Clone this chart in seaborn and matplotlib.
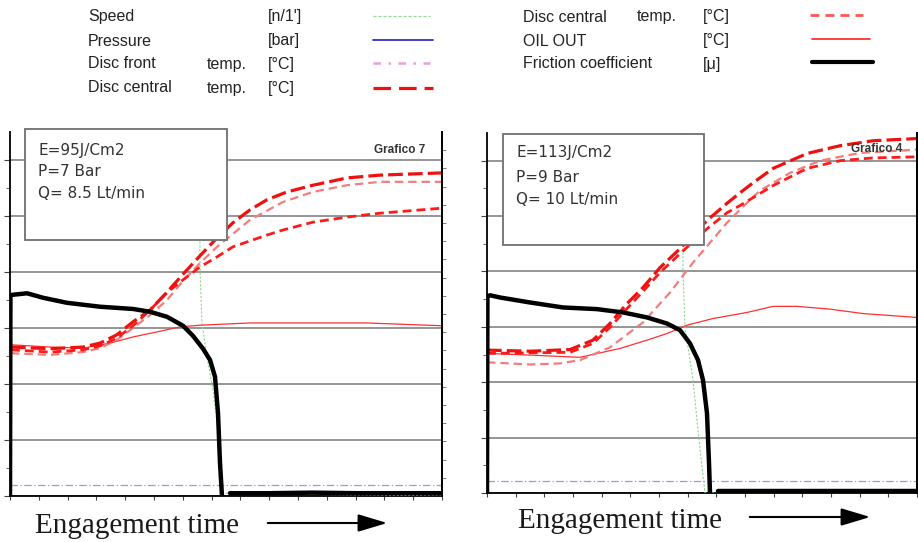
import numpy as np
import pandas as pd
import matplotlib
matplotlib.use("Agg")
import matplotlib.pyplot as plt
import seaborn as sns
from matplotlib.lines import Line2D
from matplotlib.patches import Rectangle

# ---------------- data (time in % of window, values in grid units) ----------------
# Left panel (Grafico 7)
L_fric_t = [0.0, 0.1, 0.23, 3.94, 7.64, 13.19, 20.83, 28.47, 32.41, 36.34, 40.05, 42.36, 44.68, 46.30, 47.45, 48.15, 48.61, 49.07]
L_fric_v = [0.0, 3.55, 3.59, 3.62, 3.54, 3.45, 3.38, 3.34, 3.29, 3.20, 3.04, 2.86, 2.63, 2.43, 2.13, 1.48, 0.59, 0.0]
L_fric2_t = [50.93, 60.0, 70.0, 80.0, 90.0, 100.0]
L_fric2_v = [0.05, 0.05, 0.06, 0.05, 0.05, 0.05]

L_c1_t = [0.23, 9.26, 16.90, 20.83, 24.77, 28.47, 32.41, 36.34, 40.05, 43.98, 47.92, 51.62, 55.56, 59.49, 64.12, 70.14, 78.01, 85.65, 100.0]
L_c1_v = [2.66, 2.63, 2.66, 2.73, 2.88, 3.11, 3.32, 3.64, 3.96, 4.29, 4.61, 4.88, 5.11, 5.29, 5.43, 5.55, 5.68, 5.73, 5.77]
L_c2_t = [0.23, 9.26, 16.90, 20.83, 24.77, 28.47, 32.41, 36.34, 40.05, 43.98, 47.92, 55.56, 63.19, 70.14, 78.01, 85.65, 100.0]
L_c2_v = [2.55, 2.52, 2.57, 2.64, 2.79, 3.00, 3.23, 3.50, 3.84, 4.16, 4.45, 4.93, 5.25, 5.43, 5.55, 5.61, 5.61]
L_c3_t = [0.23, 9.26, 16.90, 20.83, 24.77, 28.47, 32.41, 36.34, 40.05, 43.98, 47.92, 51.62, 59.49, 63.19, 70.14, 78.01, 85.65, 100.0]
L_c3_v = [2.61, 2.57, 2.61, 2.68, 2.82, 3.04, 3.32, 3.63, 3.86, 4.09, 4.27, 4.45, 4.66, 4.75, 4.89, 4.98, 5.05, 5.14]
L_oil_t = [0.23, 9.26, 16.90, 23.15, 28.47, 34.03, 39.35, 43.98, 55.56, 71.06, 82.64, 100.0]
L_oil_v = [2.70, 2.66, 2.64, 2.73, 2.84, 2.93, 3.02, 3.05, 3.09, 3.09, 3.09, 3.04]
L_spd_t = [0.0, 43.8, 44.0, 44.44, 45.60, 46.99, 48.15, 48.84, 49.07, 100.0]
L_spd_v = [7.0, 7.0, 4.0, 3.09, 2.48, 1.89, 1.18, 0.52, 0.05, 0.0]
L_prs_t = [0.0, 100.0]
L_prs_v = [0.20, 0.20]

# Right panel (Grafico 4)
R_fric_t = [0.0, 0.1, 0.70, 3.02, 10.0, 17.67, 25.58, 31.63, 37.21, 41.86, 44.88, 47.21, 49.07, 50.23, 51.16, 51.63, 51.86]
R_fric_v = [0.0, 3.55, 3.57, 3.53, 3.44, 3.35, 3.32, 3.26, 3.17, 3.06, 2.94, 2.70, 2.40, 2.04, 1.44, 0.54, 0.0]
R_fric2_t = [53.72, 65.0, 75.0, 85.0, 100.0]
R_fric2_v = [0.03, 0.03, 0.03, 0.03, 0.03]

R_c1_t = [0.0, 10.0, 19.30, 24.65, 28.60, 32.56, 36.28, 40.23, 44.88, 51.16, 55.81, 58.84, 61.86, 66.51, 74.42, 82.09, 89.77, 100.0]
R_c1_v = [2.58, 2.56, 2.59, 2.76, 3.06, 3.42, 3.71, 4.07, 4.41, 4.92, 5.23, 5.42, 5.60, 5.86, 6.13, 6.27, 6.36, 6.40]
R_c3_t = [0.0, 19.30, 24.65, 28.60, 32.56, 36.28, 40.23, 44.88, 51.16, 55.81, 58.84, 66.51, 74.42, 82.09, 89.77, 100.0]
R_c3_v = [2.52, 2.54, 2.70, 2.99, 3.33, 3.64, 3.98, 4.32, 4.77, 5.06, 5.19, 5.55, 5.86, 6.00, 6.05, 6.07]
R_c2_t = [0.0, 10.0, 16.98, 21.63, 28.60, 36.28, 42.56, 47.91, 51.86, 55.81, 60.47, 63.49, 70.47, 77.44, 86.74, 100.0]
R_c2_v = [2.36, 2.32, 2.34, 2.40, 2.63, 3.08, 3.62, 4.16, 4.52, 4.88, 5.24, 5.46, 5.78, 6.00, 6.14, 6.20]
R_oil_t = [0.0, 10.0, 21.63, 30.93, 37.21, 41.86, 46.51, 52.56, 60.47, 66.51, 72.09, 79.77, 87.44, 100.0]
R_oil_v = [2.52, 2.49, 2.45, 2.61, 2.76, 2.88, 3.03, 3.15, 3.26, 3.37, 3.37, 3.32, 3.24, 3.17]
R_spd_t = [0.0, 45.4, 45.58, 46.05, 47.91, 49.07, 50.0, 50.70, 100.0]
R_spd_v = [7.0, 7.0, 4.0, 2.99, 2.04, 1.14, 0.47, 0.0, 0.0]
R_prs_t = [0.0, 100.0]
R_prs_v = [0.22, 0.22]

panel_info = [["E=95J/Cm2", "P=7 Bar", "Q= 8.5 Lt/min"], ["E=113J/Cm2", "P=9 Bar", "Q= 10 Lt/min"]]
panel_titles = ["Grafico 7", "Grafico 4"]
legend_left = [("Speed", "", "[n/1']"), ("Pressure", "", "[bar]"),
               ("Disc front", "temp.", "[°C]"), ("Disc central", "temp.", "[°C]")]
legend_right = [("Disc central", "temp.", "[°C]"), ("OIL OUT", "", "[°C]"),
                ("Friction coefficient", "", "[μ]")]

# ---------------- styles ----------------
RED = "#ff1a1a"
sty = {
    "spd": dict(color="#8fd68f", lw=0.8, ls=(0, (2, 1.5))),
    "prs": dict(color="#9a9ad8", lw=0.9, ls=(0, (6, 2, 1, 2))),
    "c2": dict(color="#f47c7c", lw=1.6, ls=(0, (3.8, 2.2))),
    "c3": dict(color=RED, lw=2.0, ls=(0, (3.2, 1.8))),
    "c1": dict(color="#f01010", lw=2.3, ls=(0, (4.6, 1.6))),
    "oil": dict(color="#ff3030", lw=0.9, ls="-"),
    "fric": dict(color="black", lw=3.2, ls="-"),
}

sns.set_style("white")
plt.rcParams["font.family"] = ["Liberation Sans", "DejaVu Sans"]

fig = plt.figure(figsize=(9.18, 5.42), dpi=100)
W, H = 918.0, 542.0


def line(ax, t, v, key, z):
    s = sty[key]
    df = pd.DataFrame({"t": t, "v": v})
    sns.lineplot(data=df, x="t", y="v", ax=ax, color=s["color"], linewidth=s["lw"],
                 linestyle=s["ls"], estimator=None, sort=False, zorder=z, legend=False)


panels = [
    dict(rect=(10, 132, 442, 496), series=[
        (L_spd_t, L_spd_v, "spd"), (L_prs_t, L_prs_v, "prs"), (L_oil_t, L_oil_v, "oil"),
        (L_c2_t, L_c2_v, "c2"), (L_c3_t, L_c3_v, "c3"), (L_c1_t, L_c1_v, "c1"),
        (L_fric_t, L_fric_v, "fric"), (L_fric2_t, L_fric2_v, "fric")]),
    dict(rect=(487, 133, 917, 493), series=[
        (R_spd_t, R_spd_v, "spd"), (R_prs_t, R_prs_v, "prs"), (R_oil_t, R_oil_v, "oil"),
        (R_c2_t, R_c2_v, "c2"), (R_c3_t, R_c3_v, "c3"), (R_c1_t, R_c1_v, "c1"),
        (R_fric_t, R_fric_v, "fric"), (R_fric2_t, R_fric2_v, "fric")]),
]
box_px = [(25, 129, 227, 240), (503, 134, 704, 245)]
txt_px = [(38, [150, 172, 194]), (516, [153, 177, 199])]
title_px = [(425, 150), (902, 149)]

for i, p in enumerate(panels):
    x0, y0, x1, y1 = p["rect"]
    ax = fig.add_axes([x0 / W, 1 - y1 / H, (x1 - x0) / W, (y1 - y0) / H])
    ax.set_facecolor("white")
    for z, (t, v, key) in enumerate(p["series"]):
        line(ax, t, v, key, 3 + z * 0.1)
    ax.set_xlim(0, 100)
    ax.set_ylim(0, 6.5)
    ax.set_xlabel("")
    ax.set_ylabel("")
    ax.set_yticks(np.arange(0, 7, 1))
    ax.set_yticks(np.arange(0.5, 6.5, 1), minor=True)
    ax.set_xticks(np.linspace(0, 100, 16))
    ax.tick_params(axis="both", which="both", labelleft=False, labelbottom=False,
                   left=True, bottom=True, direction="out", color="#444444")
    ax.tick_params(axis="y", which="major", length=4, width=0.8)
    ax.tick_params(axis="y", which="minor", length=3, width=0.6)
    ax.tick_params(axis="x", length=3, width=0.8)
    ax.grid(axis="y", which="major", color="#8c8c8c", lw=1.3, zorder=0)
    ax.set_axisbelow(True)
    ax.spines["top"].set_visible(False)
    for s in ["left", "bottom", "right"]:
        ax.spines[s].set_color("black")
        ax.spines[s].set_linewidth(1.3)
    ax2 = ax.twinx()
    ax2.set_ylim(0, 20)
    ax2.set_yticks(np.arange(1, 20, 1))
    ax2.tick_params(axis="y", right=True, labelright=False, length=3, width=0.6,
                    direction="out", color="#666666")
    ax2.spines["top"].set_visible(False)
    ax2.spines["left"].set_visible(False)
    ax2.spines["bottom"].set_visible(False)
    ax2.spines["right"].set_color("black")
    ax2.spines["right"].set_linewidth(1.3)

    # info box
    bx0, by0, bx1, by1 = box_px[i]
    ax_w, ax_h = x1 - x0, y1 - y0
    rx = (bx0 - x0) / ax_w
    ry = (y1 - by1) / ax_h
    rw = (bx1 - bx0) / ax_w
    rh = (by1 - by0) / ax_h
    ax2.add_patch(Rectangle((rx, ry), rw, rh, transform=ax.transAxes, facecolor="white",
                            edgecolor="#707070", lw=1.3, zorder=20, clip_on=False))
    tx, tys = txt_px[i]
    for line_txt, ty in zip(panel_info[i], tys):
        ax2.text((tx - x0) / ax_w, (y1 - ty) / ax_h, line_txt, transform=ax.transAxes,
                 fontsize=11, family="DejaVu Sans", color="#333333", va="center",
                 ha="left", zorder=21)
    gx, gy = title_px[i]
    ax2.text((gx - x0) / ax_w, (y1 - gy) / ax_h, panel_titles[i], transform=ax.transAxes,
             fontsize=8.5, fontweight="bold", color="#333333", va="center", ha="right",
             zorder=21)

# ---------------- legend (figure coordinates) ----------------
def ftext(x, y, s, **kw):
    fig.text(x / W, 1 - y / H, s, fontsize=11.5, color="#222222", va="center", ha="left", **kw)


def fline(xa, xb, y, **kw):
    fig.add_artist(Line2D([xa / W, xb / W], [1 - y / H, 1 - y / H], transform=fig.transFigure, **kw))


ly = [17, 41, 64, 88]
for (a, b, c), y in zip(legend_left, ly):
    ftext(88, y, a)
    if b:
        ftext(207, y, b)
    ftext(268, y, c)
fline(373, 430, 16, color="#9ad69a", lw=0.9, ls=(0, (2.5, 1.5)))
fline(373, 433, 40, color="#3030c0", lw=1.3)
fline(373, 430, 63, color="#eaa0d6", lw=1.8, ls=(0, (3, 3, 1, 3)))
fline(373, 433, 88, color="#f01010", lw=2.3, ls=(0, (5.5, 2.5)))

ry_ = [17, 41, 64]
for (a, b, c), y in zip(legend_right, ry_):
    ftext(523, y, a)
    if b:
        ftext(637, y, b)
    ftext(703, y, c)
fline(810, 863, 15, color="#ff5555", lw=2.0, ls=(0, (3.2, 2.2)))
fline(812, 870, 39, color="#ff3030", lw=1.3)
fline(812, 873, 62, color="black", lw=3.0)

# ---------------- bottom labels with arrows ----------------
for (tx, tyb, ax_, bx_, ay_) in [(35, 533, 265, 390, 523), (518, 528, 747, 873, 517)]:
    fig.text(tx / W, 1 - tyb / H, "Engagement time", family="Liberation Serif",
             fontsize=21, color="#1a1a1a", va="baseline", ha="left")
    fig.add_artist(matplotlib.patches.FancyArrowPatch(
        (ax_ / W, 1 - ay_ / H), (bx_ / W, 1 - ay_ / H), transform=fig.transFigure,
        arrowstyle="-|>,head_length=1.0,head_width=0.3", mutation_scale=18,
        color="black", lw=1.5))

fig.savefig("out.png", dpi=100)
